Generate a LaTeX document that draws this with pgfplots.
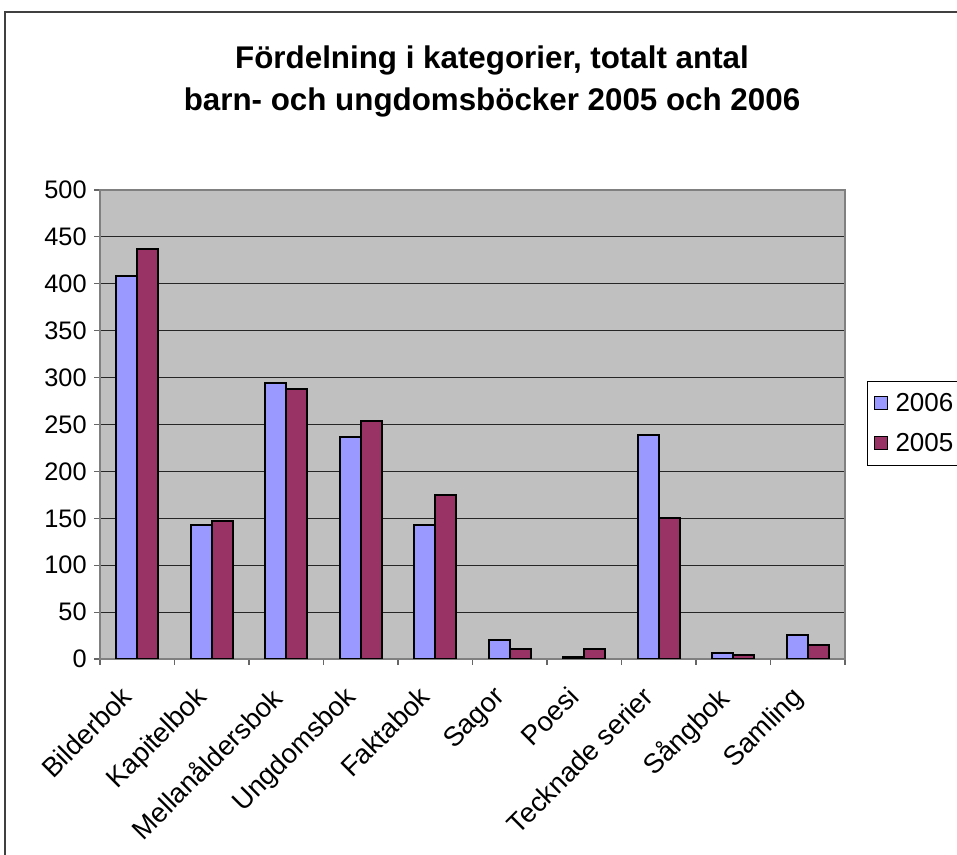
\documentclass[border=0pt]{standalone}
\usepackage{pgfplots}
\pgfplotsset{compat=1.18}
\usepackage{fontspec}
\setmainfont{Liberation Sans}
\definecolor{c2006}{HTML}{9999FF}
\definecolor{c2005}{HTML}{993366}
\definecolor{plotbg}{HTML}{C0C0C0}
\begin{document}
\begin{tikzpicture}[x=0.75pt,y=0.75pt]
\useasboundingbox (0,0) rectangle (957,855);
\draw[line width=1pt, black!75] (5,-20) -- (5,843) -- (990,843);
\node[font=\bfseries\fontsize{23.5}{31.5}\selectfont, align=center] at (492,774) {Fördelning i kategorier, totalt antal\\barn- och ungdomsböcker 2005 och 2006};
\begin{axis}[
  at={(75pt,147pt)}, anchor=south west,
  scale only axis, width=558.75pt, height=351.75pt,
  xmin=-0.5, xmax=9.5, ymin=0, ymax=500,
  ytick={0,50,...,500},
  axis background/.style={fill=plotbg},
  ymajorgrids, grid style={black!85, line width=0.6pt},
  axis line style={black!50, line width=0.8pt},
  tick align=outside, tickpos=left,
  major tick length=4.5pt,
  tick style={black!60, line width=0.8pt},
  xtick={-0.5,0.5,...,9.5}, xticklabels={},
  extra x ticks={0,1,2,3,4,5,6,7,8,9},
  extra x tick labels={Bilderbok,Kapitelbok,Mellanåldersbok,Ungdomsbok,Faktabok,Sagor,Poesi,Tecknade serier,Sångbok,Samling},
  extra x tick style={major tick length=0pt, grid=none,
    tick label style={rotate=45, anchor=north east, xshift=-19.5pt, yshift=-0.8pt, font=\fontsize{20.5}{20.5}\selectfont}},
  /pgf/number format/assume math mode=true,
  tick label style={font=\fontsize{19}{19}\selectfont},
  y tick label style={xshift=-2pt},
  ybar, bar width=15.75pt,
  legend style={at={(1.0295,0.5928)}, anchor=north west, draw=black, fill=white,
    font=\fontsize{19.5}{19.5}\selectfont, row sep=11pt, inner xsep=5pt, inner ysep=7pt,
    cells={anchor=west}},
  legend image code/.code={\draw[#1, draw=black, line width=0.8pt] (0pt,-4.5pt) rectangle (9.5pt,5pt); \path (13pt,0pt);},
]
\addplot[bar shift=-7.875pt, fill=c2006, draw=black, line width=1.6pt]
  coordinates {(0,408) (1,143) (2,294) (3,237) (4,143) (5,20) (6,2) (7,239) (8,6) (9,26)};
\addplot[bar shift=7.875pt, fill=c2005, draw=black, line width=1.6pt]
  coordinates {(0,437) (1,147) (2,288) (3,254) (4,175) (5,11) (6,11) (7,150) (8,4) (9,15)};
\legend{2006,2005}
\end{axis}
\end{tikzpicture}
\end{document}
